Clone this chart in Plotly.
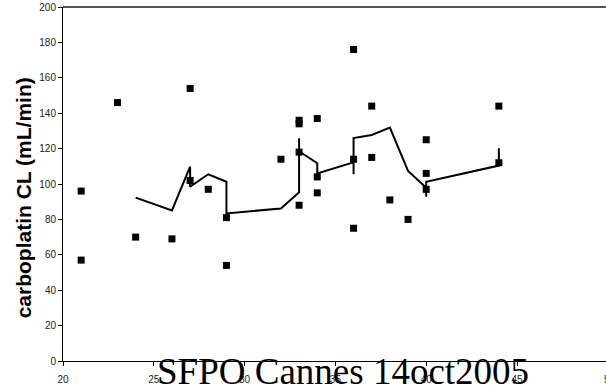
import plotly.graph_objects as go

# Observed data (age/weight-like covariate vs carboplatin clearance)
obs_x = [21, 21, 23, 24, 26, 27, 27, 28, 29, 29, 32, 33, 33, 33, 33, 34, 34, 34,
         36, 36, 36, 37, 37, 38, 39, 40, 40, 40, 44, 44]
obs_y = [96, 57, 146, 70, 69, 154, 102, 97, 81, 54, 114, 136, 134, 118, 88, 137, 104, 95,
         176, 114, 75, 144, 115, 91, 80, 125, 106, 97, 144, 112]

# Model prediction line (in drawing order)
pred_x = [24, 26, 27, 27, 28, 29, 29, 32, 33, 33, 33, 34, 34, 36, 36, 36, 37, 38, 39, 40, 40, 40, 44, 44]
pred_y = [92.3, 85.1, 109.8, 98.5, 105.5, 101.3, 83.4, 86.2, 95.3, 125.8, 118.5, 111.7, 106.0,
          112.3, 105.5, 126.0, 127.7, 131.9, 107.4, 97.9, 92.8, 101.3, 110.4, 120.2]

x_ticks = [20, 25, 30, 35, 40, 45]
x_range = [20, 49.9]
y_range = [0, 200]

fig = go.Figure()
fig.add_trace(go.Scatter(x=pred_x, y=pred_y, mode="lines",
                         line=dict(color="black", width=2), showlegend=False))
fig.add_trace(go.Scatter(x=obs_x, y=obs_y, mode="markers",
                         marker=dict(symbol="square", size=7, color="black"),
                         showlegend=False))

tickfont = dict(family="Liberation Sans, Arial", size=10, color="#222")

fig.update_layout(
    width=606, height=387,
    margin=dict(l=63, r=0, t=7, b=26),
    paper_bgcolor="white", plot_bgcolor="white",
    xaxis=dict(range=x_range, tickvals=x_ticks, ticks="outside", ticklen=4,
               tickcolor="black", showline=True, linecolor="black", linewidth=1,
               showgrid=False, zeroline=False, tickfont=tickfont,
               ticklabelstandoff=5),
    yaxis=dict(range=y_range, dtick=20, ticks="outside", ticklen=4,
               tickcolor="black", showline=True, linecolor="black", linewidth=1,
               showgrid=False, zeroline=False, tickfont=tickfont),
    shapes=[dict(type="line", xref="paper", yref="paper", x0=0, x1=1, y0=1, y1=1,
                 line=dict(color="#555", width=2))],
    annotations=[
        dict(text="<b>carboplatin CL (mL/min)</b>", textangle=-90,
             xref="paper", yref="paper", x=-0.072, y=0.462,
             xanchor="center", yanchor="middle",
             showarrow=False, font=dict(family="Liberation Sans, Arial", size=21, color="black")),
        dict(text="50", xref="paper", yref="paper",
             x=(50 - x_range[0]) / (x_range[1] - x_range[0]), xanchor="left", xshift=-6,
             y=0, yanchor="top", yshift=-11,
             showarrow=False, font=tickfont),
        dict(text="SFPO Cannes 14oct2005", xref="paper", yref="paper",
             x=0.515, y=-0.03, xanchor="center", yanchor="middle",
             showarrow=False, font=dict(family="Liberation Serif, Times New Roman", size=37, color="black")),
    ],
)

fig.write_html("out.html")
